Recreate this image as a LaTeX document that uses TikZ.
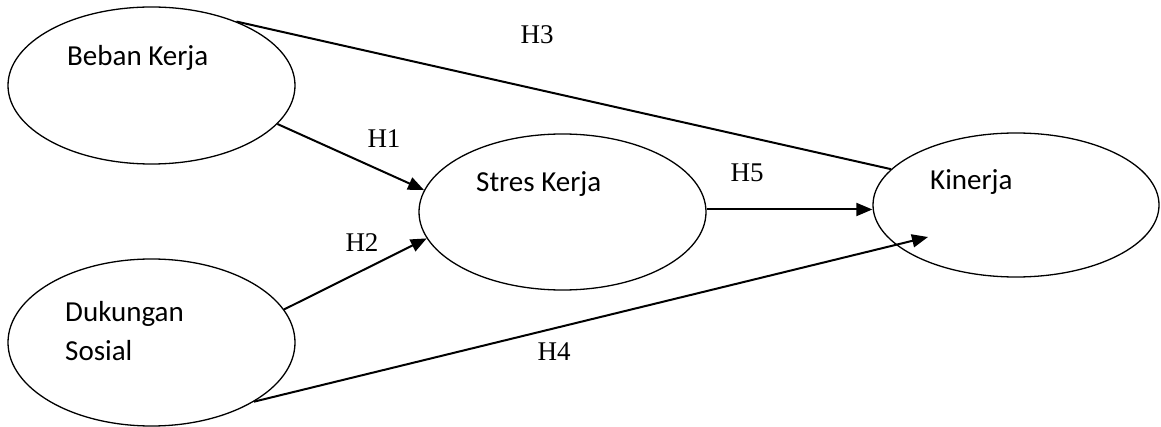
\documentclass[tikz,border=0pt]{standalone}
\usepackage{fontspec}
\setmainfont{Liberation Serif}
\newfontfamily\calib{Carlito}
\usetikzlibrary{shapes.geometric,arrows.meta}
\begin{document}
\begin{tikzpicture}[x=1pt,y=-1pt,
  oval/.style={draw, ellipse, line width=1.3pt, inner sep=0pt},
  vartext/.style={anchor=base west, inner sep=0pt, font=\calib\fontsize{29}{33}\selectfont},
  hlabel/.style={inner sep=0pt, font=\fontsize{27}{30}\selectfont},
  link/.style={line width=2pt},
  arrowlink/.style={line width=2pt, -{Triangle[length=16pt,width=13pt]}}
]
\useasboundingbox (0,0) rectangle (1161,427);
% ellipses
\node[oval, minimum width=287pt, minimum height=157pt] (bk) at (151.5,85.5) {};
\node[oval, minimum width=287pt, minimum height=167pt] (ds) at (151.5,342.5) {};
\node[oval, minimum width=287pt, minimum height=156pt] (sk) at (562.5,212) {};
\node[oval, minimum width=286pt, minimum height=144pt] (kn) at (1016,205) {};
% texts
\node[vartext] (tbk) at (67,66) {Beban Kerja};
\node[vartext] (tds1) at (65,322) {Dukungan};
\node[vartext] (tds2) at (65,360) {Sosial};
\node[vartext] (tsk) at (476,192) {Stres Kerja};
\node[vartext] (tkn) at (930,190) {Kinerja};
% connectors
\coordinate (h4end) at (928,237);
\draw[link] (bk.37.5) -- (kn.164.9);
\draw[arrowlink] (bk.-17.6) -- (sk.171.7);
\draw[arrowlink] (ds.14.7) -- (sk.191.3);
\draw[arrowlink] (sk.1.6) -- (sk.1.6 -| kn.west);
\draw[arrowlink] (ds.-30.8) -- (h4end);
% labels
\node[hlabel] (h3) at (537,35) {H3};
\node[hlabel] (h1) at (384,139) {H1};
\node[hlabel] (h2) at (362,243) {H2};
\node[hlabel] (h5) at (747,173) {H5};
\node[hlabel] (h4) at (554,352) {H4};
\end{tikzpicture}
\end{document}
